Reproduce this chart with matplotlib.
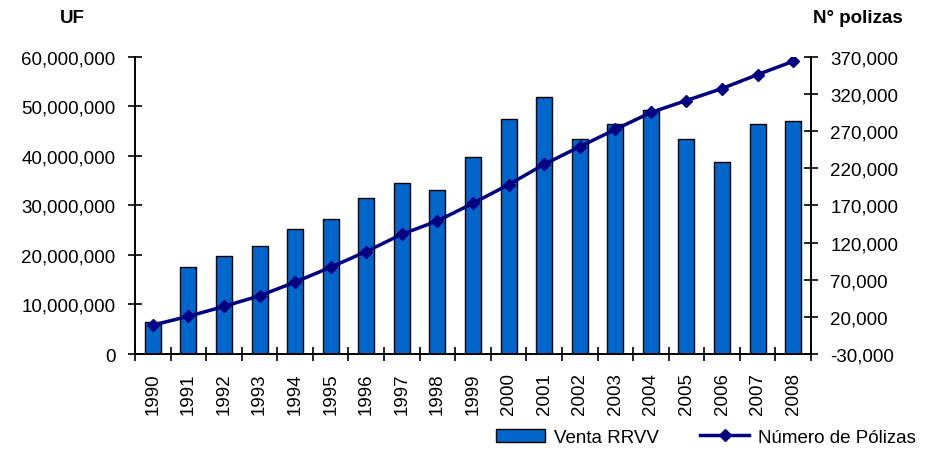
import matplotlib.pyplot as plt
import numpy as np
from matplotlib.ticker import FuncFormatter

# datos -------------------------------------------------
years = [str(y) for y in range(1990, 2009)]
venta_rrvv = [6.5e6, 17.6e6, 19.7e6, 21.8e6, 25.2e6, 27.3e6, 31.5e6, 34.6e6, 33.2e6,
              39.8e6, 47.5e6, 52.0e6, 43.4e6, 46.5e6, 49.3e6, 43.4e6, 38.8e6, 46.4e6, 47.1e6]
num_polizas = [9000, 20700, 34100, 48400, 66800, 86900, 108000, 131300, 149200, 173000,
               198100, 225400, 249200, 272400, 295300, 311400, 327500, 346300, 364200]

plt.rcParams['font.family'] = ['Liberation Sans', 'DejaVu Sans']
FS = 13.5

fig = plt.figure(figsize=(9.33, 4.52), dpi=100)
ax = fig.add_axes([0.1447, 0.2146, 0.7245, 0.6571])
ax2 = ax.twinx()

x = np.arange(len(years))
ax.bar(x, venta_rrvv, width=0.45, color='#0066cc', edgecolor='black', linewidth=1.0,
       label='Venta RRVV', zorder=2)
ax2.plot(x, num_polizas, color='#000080', linewidth=2.5, marker='D', markersize=6.5,
         label='Número de Pólizas', zorder=3)

ax.set_xlim(-0.5, len(years) - 0.5)
ax.set_ylim(0, 60e6)
ax.set_yticks(np.arange(0, 60e6 + 1, 10e6))
ax.yaxis.set_major_formatter(FuncFormatter(lambda v, p: f'{v:,.0f}'))
ax2.set_ylim(-30000, 370000)
ax2.set_yticks(np.arange(-30000, 370001, 50000))
ax2.yaxis.set_major_formatter(FuncFormatter(lambda v, p: f'{v:,.0f}'))

ax.set_xticks(x)
ax.set_xticklabels(years, rotation=90)
ax.set_xticks(np.arange(-0.5, len(years)), minor=True)
ax.tick_params(axis='x', which='major', length=0, labelsize=FS, pad=13)
ax.tick_params(axis='x', which='minor', direction='inout', length=10, width=1.2)
ax.tick_params(axis='y', direction='inout', length=10, width=1.2, labelsize=FS, pad=9)
ax2.tick_params(axis='y', direction='inout', length=10, width=1.2, labelsize=FS, pad=9)

for a in (ax, ax2):
    a.spines['top'].set_visible(False)
    for s in ('left', 'right', 'bottom'):
        a.spines[s].set_linewidth(1.2)

fig.text(0.077, 0.958, 'UF', fontsize=FS, fontweight='bold', ha='center', va='center')
fig.text(0.919, 0.958, 'N° polizas', fontsize=FS, fontweight='bold', ha='center', va='center')

h1, l1 = ax.get_legend_handles_labels()
h2, l2 = ax2.get_legend_handles_labels()
fig.legend(h1 + h2, l1 + l2, loc='center right', bbox_to_anchor=(1.0, 0.03), ncol=2,
           frameon=False, fontsize=FS, handlelength=2.6, columnspacing=2.2, handletextpad=0.5)

plt.savefig('out.png')
